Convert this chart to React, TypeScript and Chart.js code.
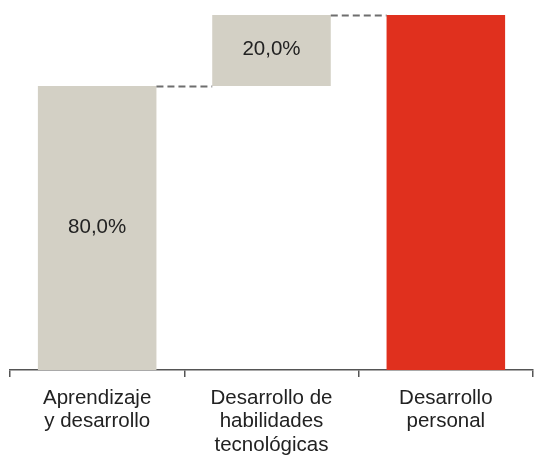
import React, { useEffect, useRef } from "react";
import { Chart, registerables } from "chart.js";

Chart.register(...registerables);

const categories: string[][] = [
  ["Aprendizaje", "y desarrollo"],
  ["Desarrollo de", "habilidades", "tecnológicas"],
  ["Desarrollo", "personal"],
];
const barStarts = [0, 80, 0];
const barEnds = [80, 100, 100];
const valueLabels = ["80,0%", "20,0%", ""];
const barColors = ["#D3D0C5", "#D3D0C5", "#E0301E"];

const waterfallPlugin = {
  id: "waterfallExtras",
  afterDatasetsDraw(chart: any) {
    const ctx = chart.ctx;
    const meta = chart.getDatasetMeta(0);
    const y = chart.scales.y;
    ctx.save();
    // connectors
    ctx.strokeStyle = "#6E6E6E";
    ctx.lineWidth = 2;
    ctx.setLineDash([7, 4]);
    for (let i = 0; i < meta.data.length - 1; i++) {
      const a = meta.data[i];
      const b = meta.data[i + 1];
      const level = barEnds[i];
      const py = Math.round(y.getPixelForValue(level)) + 0.5;
      ctx.beginPath();
      ctx.moveTo(a.x + a.width / 2, py);
      ctx.lineTo(b.x - b.width / 2, py);
      ctx.stroke();
    }
    ctx.setLineDash([]);
    // value labels
    ctx.fillStyle = "#222222";
    ctx.font = "20.5px 'Liberation Sans', Arial, sans-serif";
    ctx.textAlign = "center";
    ctx.textBaseline = "middle";
    meta.data.forEach((el: any, i: number) => {
      if (!valueLabels[i]) return;
      const top = y.getPixelForValue(barEnds[i]);
      const bot = y.getPixelForValue(barStarts[i]);
      ctx.fillText(valueLabels[i], el.x, (top + bot) / 2 - 1);
    });
    ctx.restore();
  },
};

export default function App() {
  const ref = useRef<HTMLCanvasElement | null>(null);
  useEffect(() => {
    document.body.style.margin = "0";
    const chart = new Chart(ref.current!, {
      type: "bar",
      data: {
        labels: categories,
        datasets: [
          {
            data: barStarts.map((s, i) => [s, barEnds[i]]) as any,
            backgroundColor: barColors,
            borderWidth: 0,
            categoryPercentage: 1,
            barPercentage: 0.68,
          },
        ],
      },
      options: {
        responsive: false,
        animation: false,
        layout: { padding: { left: 10, right: 4, top: 15, bottom: 1 } },
        plugins: { legend: { display: false }, tooltip: { enabled: false } },
        scales: {
          x: {
            afterFit: (scale: any) => {
              scale.height = 86;
            },
            grid: {
              drawOnChartArea: false,
              drawTicks: true,
              tickLength: 7,
              color: "#555555",
              lineWidth: 1.5,
              offset: true,
            },
            border: { display: true, color: "#555555", width: 1.5 },
            ticks: {
              color: "#222222",
              font: { family: "'Liberation Sans', Arial, sans-serif", size: 20.5, lineHeight: 1.13 },
              maxRotation: 0,
              autoSkip: false,
              padding: 10,
            },
          },
          y: { display: false, min: 0, max: 100 },
        },
      },
      plugins: [waterfallPlugin],
    });
    return () => chart.destroy();
  }, []);
  return (
    <div style={{ width: 537, height: 457 }}>
      <canvas ref={ref} width={537} height={457} style={{ display: "block" }} />
    </div>
  );
}
